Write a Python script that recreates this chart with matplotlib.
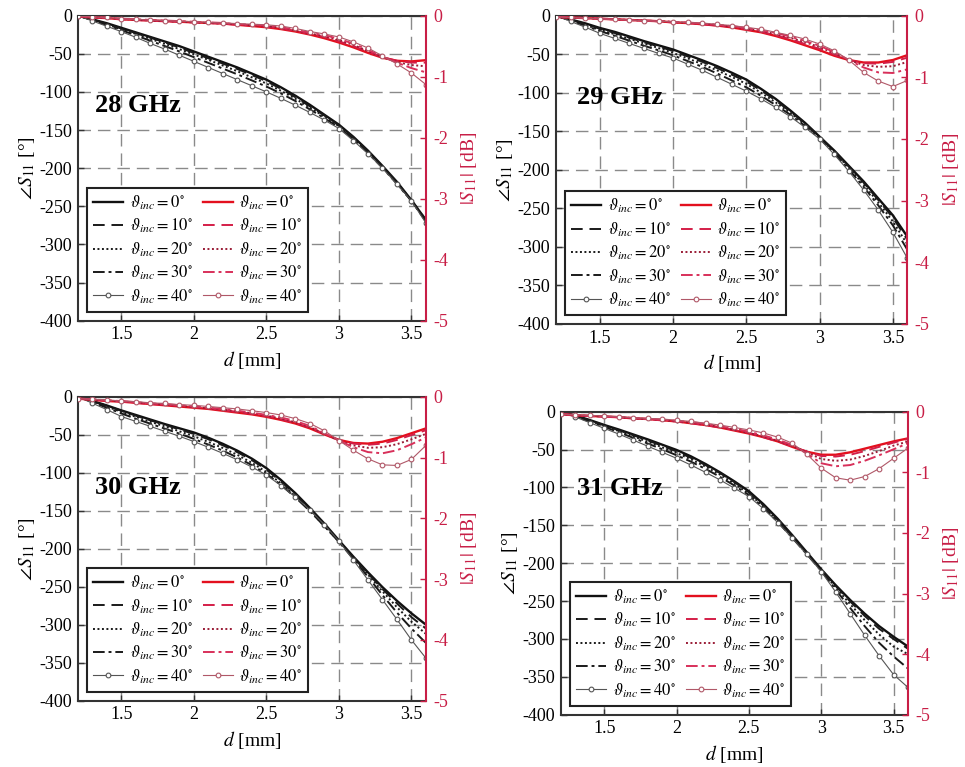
import matplotlib
matplotlib.use("Agg")
from matplotlib import pyplot as plt

plt.rcParams["font.family"] = ["Liberation Serif", "DejaVu Serif"]
plt.rcParams["mathtext.fontset"] = "stix"
plt.rcParams["axes.unicode_minus"] = False

# thickness d [mm]
D_MM = [1.2, 1.3, 1.4, 1.5, 1.6, 1.7, 1.8, 1.9, 2.0, 2.1, 2.2, 2.3, 2.4,
        2.5, 2.6, 2.7, 2.8, 2.9, 3.0, 3.1, 3.2, 3.3, 3.4, 3.5, 3.6]
ANGLES = [0, 10, 20, 30, 40]
FREQ_LABELS = ["28 GHz", "29 GHz", "30 GHz", "31 GHz"]

# 28 GHz: phase of S11 [deg]
PH28_0 = [0, -5, -10, -16, -22, -28, -34, -40, -47, -54, -61, -68, -76, -84, -94, -105, -117, -130, -143, -159, -177, -197, -218, -242, -268]
PH28_10 = [0, -5, -11, -17, -23, -29, -35, -42, -49, -56, -63, -70, -78, -86, -96, -107, -119, -131, -144, -160, -178, -198, -219, -242, -268]
PH28_20 = [0, -5.5, -11.5, -18, -24, -30.5, -37, -44, -51, -58, -65.5, -73, -81, -89, -98.5, -109, -120.5, -132.5, -145, -161, -179, -199, -220, -243, -269]
PH28_30 = [0, -6, -12.5, -19, -26, -33, -40, -47, -54.5, -62, -69.5, -77, -85, -93, -102, -112, -123, -134.5, -146.5, -162, -180, -199.5, -220.5, -243, -270]
PH28_40 = [0, -7, -14, -21, -28.5, -36.5, -44, -52, -60, -68, -76, -84, -92, -100, -108.5, -117.5, -127, -137, -148, -164, -181, -200, -221, -243, -272]
# 28 GHz: |S11| [dB]
MAG28_0 = [-0.01, -0.03, -0.04, -0.06, -0.07, -0.08, -0.09, -0.10, -0.11, -0.12, -0.13, -0.15, -0.17, -0.19, -0.22, -0.26, -0.31, -0.37, -0.44, -0.52, -0.61, -0.69, -0.74, -0.75, -0.73]
MAG28_10 = [-0.01, -0.03, -0.04, -0.06, -0.07, -0.08, -0.09, -0.10, -0.11, -0.12, -0.13, -0.15, -0.16, -0.18, -0.21, -0.25, -0.30, -0.35, -0.42, -0.50, -0.59, -0.68, -0.74, -0.77, -0.77]
MAG28_20 = [-0.01, -0.02, -0.04, -0.05, -0.07, -0.08, -0.09, -0.10, -0.11, -0.12, -0.13, -0.14, -0.16, -0.17, -0.20, -0.24, -0.29, -0.34, -0.40, -0.48, -0.58, -0.68, -0.76, -0.81, -0.83]
MAG28_30 = [-0.01, -0.02, -0.03, -0.05, -0.06, -0.07, -0.08, -0.09, -0.10, -0.11, -0.12, -0.14, -0.15, -0.16, -0.19, -0.23, -0.28, -0.32, -0.38, -0.46, -0.56, -0.67, -0.77, -0.86, -0.93]
MAG28_40 = [-0.01, -0.02, -0.03, -0.05, -0.06, -0.07, -0.08, -0.09, -0.10, -0.11, -0.12, -0.13, -0.14, -0.15, -0.17, -0.21, -0.26, -0.30, -0.35, -0.43, -0.53, -0.66, -0.79, -0.94, -1.13]

# 29 GHz
PH29_0 = [0, -5, -10, -16, -21, -27, -33, -38.5, -44, -51, -58, -65.5, -74, -83, -95, -108, -123, -139, -157, -175, -195, -215, -237, -259, -287]
PH29_10 = [0, -5.5, -11, -17, -22.5, -28.5, -34.5, -40, -46, -53, -60, -68, -76.5, -85.5, -97, -110, -124.5, -140, -157.5, -176, -196, -216.5, -239, -262, -291]
PH29_20 = [0, -6, -12, -18.5, -24, -30, -36, -42, -48.5, -55.5, -63, -71, -79.5, -88.5, -100, -112.5, -126, -141.5, -158, -177, -197.5, -219, -242, -267, -297]
PH29_30 = [0, -6.5, -13, -20, -26, -32.5, -39, -45, -51.5, -59, -66.5, -75, -84, -93, -104, -116, -128.5, -143, -159, -178.5, -199.5, -222, -246, -272, -304]
PH29_40 = [0, -7.5, -15, -23, -29.5, -36, -42.5, -49, -55, -63, -71, -80, -89, -98, -108, -119, -131, -145, -160, -180, -202, -226, -252, -281, -315]
MAG29_0 = [-0.02, -0.03, -0.04, -0.05, -0.06, -0.07, -0.08, -0.09, -0.11, -0.12, -0.14, -0.16, -0.19, -0.23, -0.27, -0.33, -0.40, -0.48, -0.56, -0.65, -0.72, -0.76, -0.76, -0.72, -0.64]
MAG29_10 = [-0.02, -0.03, -0.04, -0.05, -0.06, -0.07, -0.08, -0.09, -0.11, -0.12, -0.14, -0.16, -0.18, -0.22, -0.26, -0.32, -0.38, -0.46, -0.54, -0.63, -0.72, -0.77, -0.78, -0.75, -0.68]
MAG29_20 = [-0.02, -0.03, -0.04, -0.05, -0.06, -0.07, -0.08, -0.09, -0.10, -0.12, -0.13, -0.15, -0.18, -0.21, -0.25, -0.30, -0.36, -0.43, -0.51, -0.61, -0.72, -0.80, -0.83, -0.82, -0.75]
MAG29_30 = [-0.02, -0.03, -0.04, -0.05, -0.06, -0.07, -0.08, -0.09, -0.10, -0.11, -0.13, -0.15, -0.17, -0.20, -0.24, -0.28, -0.34, -0.41, -0.49, -0.59, -0.72, -0.84, -0.92, -0.93, -0.87]
MAG29_40 = [-0.02, -0.03, -0.04, -0.05, -0.06, -0.07, -0.08, -0.09, -0.10, -0.11, -0.12, -0.14, -0.16, -0.19, -0.22, -0.27, -0.32, -0.38, -0.46, -0.57, -0.72, -0.92, -1.06, -1.15, -1.05]

# 30 GHz
PH30_0 = [0, -5.5, -11.5, -18, -24, -30, -36, -41.5, -47, -54, -62, -71, -81.5, -94, -109.5, -127, -146.5, -167, -189, -210.5, -231, -250.5, -268.5, -285, -300]
PH30_10 = [0, -6, -12, -18.5, -25, -31, -37, -43, -49, -56, -64, -73, -83.5, -96, -111.5, -129, -148, -168.5, -190, -211.5, -232.5, -253, -272, -290, -305]
PH30_20 = [0, -6.5, -13, -20, -26.5, -33, -39, -45.5, -52, -59.5, -67.5, -76.5, -87, -99, -114, -131, -150, -170, -190.5, -212, -234, -256, -277, -296, -312]
PH30_30 = [0, -7, -14.5, -22, -29, -35.5, -42, -48.5, -55.5, -63, -71, -80, -90, -101.5, -116, -132.5, -150.5, -170.5, -191, -213.5, -237, -261, -284, -305, -324]
PH30_40 = [0, -8.5, -17, -26, -32.5, -39, -45.5, -52, -59, -66.5, -74.5, -83, -92.5, -103, -117, -132, -149, -168.5, -190, -215, -241, -267, -293, -320, -344]
MAG30_0 = [-0.03, -0.05, -0.07, -0.08, -0.10, -0.12, -0.14, -0.16, -0.18, -0.20, -0.23, -0.26, -0.29, -0.33, -0.38, -0.44, -0.52, -0.62, -0.71, -0.76, -0.77, -0.74, -0.68, -0.60, -0.52]
MAG30_10 = [-0.03, -0.05, -0.06, -0.08, -0.10, -0.12, -0.13, -0.15, -0.17, -0.19, -0.22, -0.25, -0.28, -0.32, -0.37, -0.43, -0.51, -0.61, -0.71, -0.77, -0.79, -0.77, -0.71, -0.63, -0.55]
MAG30_20 = [-0.03, -0.05, -0.06, -0.08, -0.09, -0.11, -0.13, -0.15, -0.17, -0.19, -0.21, -0.24, -0.27, -0.31, -0.36, -0.42, -0.50, -0.61, -0.72, -0.80, -0.84, -0.83, -0.78, -0.70, -0.61]
MAG30_30 = [-0.03, -0.04, -0.06, -0.07, -0.09, -0.11, -0.12, -0.14, -0.16, -0.18, -0.20, -0.23, -0.26, -0.30, -0.34, -0.40, -0.48, -0.60, -0.72, -0.83, -0.91, -0.93, -0.88, -0.78, -0.67]
MAG30_40 = [-0.03, -0.04, -0.05, -0.07, -0.08, -0.10, -0.11, -0.13, -0.14, -0.16, -0.18, -0.20, -0.23, -0.26, -0.30, -0.36, -0.44, -0.56, -0.72, -0.88, -1.02, -1.12, -1.13, -1.03, -0.80]

# 31 GHz
PH31_0 = [0, -5, -11, -17.5, -23.5, -30, -36.5, -43.5, -50.5, -59, -69, -80, -92, -105, -122, -141.5, -163, -185.5, -208, -229, -248.5, -266.5, -283, -297, -310]
PH31_10 = [0, -5.5, -11.5, -18, -24.5, -31, -38, -45, -52.5, -61, -70.5, -81, -93, -106.5, -123.5, -143, -164, -186.5, -208.5, -230, -250.5, -269.5, -286.5, -300, -313]
PH31_20 = [0, -6, -12, -19, -25.5, -32.5, -39.5, -47, -54.5, -63, -72.5, -83, -95, -108, -125, -144.5, -165.5, -187.5, -209, -232, -254, -275, -294, -310, -320]
PH31_30 = [0, -6.5, -13, -20, -27, -34.5, -42, -49.5, -57.5, -66, -75.5, -86, -97.5, -110, -126.5, -145.5, -166.5, -188, -210, -235, -259, -283, -305, -323, -339]
PH31_40 = [0, -7, -14.5, -22, -29.5, -37.5, -45.5, -53.5, -61.5, -70.5, -80, -90, -101, -112, -128, -146.5, -167, -188.5, -211, -238, -266.5, -295, -322, -347, -364]
MAG31_0 = [-0.04, -0.06, -0.07, -0.08, -0.09, -0.11, -0.12, -0.14, -0.16, -0.19, -0.22, -0.26, -0.31, -0.36, -0.42, -0.49, -0.58, -0.66, -0.71, -0.71, -0.67, -0.61, -0.55, -0.49, -0.44]
MAG31_10 = [-0.04, -0.06, -0.07, -0.08, -0.09, -0.11, -0.12, -0.14, -0.16, -0.19, -0.22, -0.26, -0.30, -0.35, -0.42, -0.49, -0.57, -0.66, -0.73, -0.74, -0.71, -0.65, -0.58, -0.51, -0.45]
MAG31_20 = [-0.04, -0.06, -0.07, -0.08, -0.09, -0.11, -0.12, -0.14, -0.16, -0.18, -0.21, -0.25, -0.30, -0.35, -0.41, -0.48, -0.56, -0.67, -0.78, -0.81, -0.79, -0.73, -0.65, -0.56, -0.49]
MAG31_30 = [-0.04, -0.05, -0.07, -0.08, -0.09, -0.10, -0.12, -0.13, -0.15, -0.17, -0.20, -0.24, -0.28, -0.33, -0.39, -0.46, -0.55, -0.69, -0.85, -0.90, -0.88, -0.81, -0.72, -0.62, -0.52]
MAG31_40 = [-0.04, -0.05, -0.06, -0.07, -0.08, -0.10, -0.11, -0.12, -0.14, -0.16, -0.19, -0.22, -0.26, -0.30, -0.35, -0.42, -0.52, -0.70, -0.93, -1.09, -1.13, -1.07, -0.94, -0.77, -0.60]

PHASES = [
    [PH28_0, PH28_10, PH28_20, PH28_30, PH28_40],
    [PH29_0, PH29_10, PH29_20, PH29_30, PH29_40],
    [PH30_0, PH30_10, PH30_20, PH30_30, PH30_40],
    [PH31_0, PH31_10, PH31_20, PH31_30, PH31_40],
]
MAGS = [
    [MAG28_0, MAG28_10, MAG28_20, MAG28_30, MAG28_40],
    [MAG29_0, MAG29_10, MAG29_20, MAG29_30, MAG29_40],
    [MAG30_0, MAG30_10, MAG30_20, MAG30_30, MAG30_40],
    [MAG31_0, MAG31_10, MAG31_20, MAG31_30, MAG31_40],
]

RED = "#c81e46"
black_styles = [
    dict(color="#111111", ls="-", lw=1.7),
    dict(color="#1a1a1a", ls=(0, (6, 3.5)), lw=1.4),
    dict(color="#1a1a1a", ls=(0, (1, 1.3)), lw=1.4),
    dict(color="#1a1a1a", ls=(0, (6, 2, 1.5, 2)), lw=1.4),
    dict(color="#555555", ls="-", lw=0.8, marker="o", ms=3.4,
         mfc="white", mew=0.8),
]
red_styles = [
    dict(color="#e3101e", ls="-", lw=1.7),
    dict(color="#d41e48", ls=(0, (6, 3.5)), lw=1.4),
    dict(color="#9a1c36", ls=(0, (1, 1.3)), lw=1.4),
    dict(color="#d8305a", ls=(0, (6, 2, 1.5, 2)), lw=1.4),
    dict(color="#b05868", ls="-", lw=0.8, marker="o", ms=3.4,
         mfc="white", mew=0.8),
]

# axes boxes [left, bottom, width, height] in figure fraction
positions = [
    [0.0808, 0.5819, 0.3606, 0.3977],
    [0.5762, 0.5776, 0.3642, 0.4020],
    [0.0808, 0.0864, 0.3606, 0.3963],
    [0.5813, 0.0682, 0.3596, 0.3950],
]
label_pos = [(0.05, 0.707), (0.06, 0.733), (0.05, 0.703), (0.045, 0.748)]

fig = plt.figure(figsize=(9.65, 7.67), dpi=100)

for k in range(4):
    ax = fig.add_axes(positions[k])
    ax2 = ax.twinx()

    black_lines = []
    for vals, st in zip(PHASES[k], black_styles):
        (ln,) = ax.plot(D_MM, vals, **st)
        black_lines.append(ln)
    red_lines = []
    for vals, st in zip(MAGS[k], red_styles):
        (ln,) = ax2.plot(D_MM, vals, **st)
        red_lines.append(ln)

    ax.set_xlim(1.2, 3.6)
    ax.set_ylim(-400, 0)
    ax.set_xticks([1.5, 2, 2.5, 3, 3.5])
    ax.set_xticklabels(["1.5", "2", "2.5", "3", "3.5"])
    ax.set_yticks(range(-400, 1, 50))
    ax2.set_ylim(-5, 0)
    ax2.set_yticks(range(-5, 1))

    ax.set_axisbelow(True)
    ax.grid(True, ls=(0, (9, 5)), color="#8a8a8a", lw=1.0)

    for side in ["left", "bottom", "top"]:
        ax.spines[side].set_color("#333333")
        ax.spines[side].set_linewidth(1.5)
    ax.spines["right"].set_visible(False)
    for side in ["left", "bottom", "top"]:
        ax2.spines[side].set_visible(False)
    ax2.spines["right"].set_color(RED)
    ax2.spines["right"].set_linewidth(1.5)

    ax.tick_params(direction="in", length=4, width=1, labelsize=13,
                   color="#333333", pad=4)
    ax2.tick_params(axis="y", direction="in", length=4, width=1,
                    labelsize=13, colors=RED, pad=5)

    ax.set_xlabel(r"$d$ [mm]", fontsize=14, labelpad=4)
    ax.set_ylabel(r"$\angle S_{11}$ [°]", fontsize=14, labelpad=2)
    ax2.set_ylabel(r"$|S_{11}|$ [dB]", fontsize=14, color=RED, labelpad=8)

    ax.text(label_pos[k][0], label_pos[k][1], FREQ_LABELS[k],
            transform=ax.transAxes, fontsize=19, fontweight="bold",
            ha="left", va="center")

    labels = [rf"$\vartheta_{{inc}} = {a}^{{\circ}}$" for a in ANGLES]
    leg = ax2.legend(
        black_lines + red_lines, labels + labels, ncol=2, loc="lower left",
        fontsize=12, frameon=True, fancybox=False, framealpha=1,
        edgecolor="#222222", handlelength=1.8, handletextpad=0.4,
        columnspacing=0.6, labelspacing=0.3, borderpad=0.35,
        borderaxespad=0.55)
    leg.get_frame().set_linewidth(1.5)

plt.savefig("out.png", dpi=100)
